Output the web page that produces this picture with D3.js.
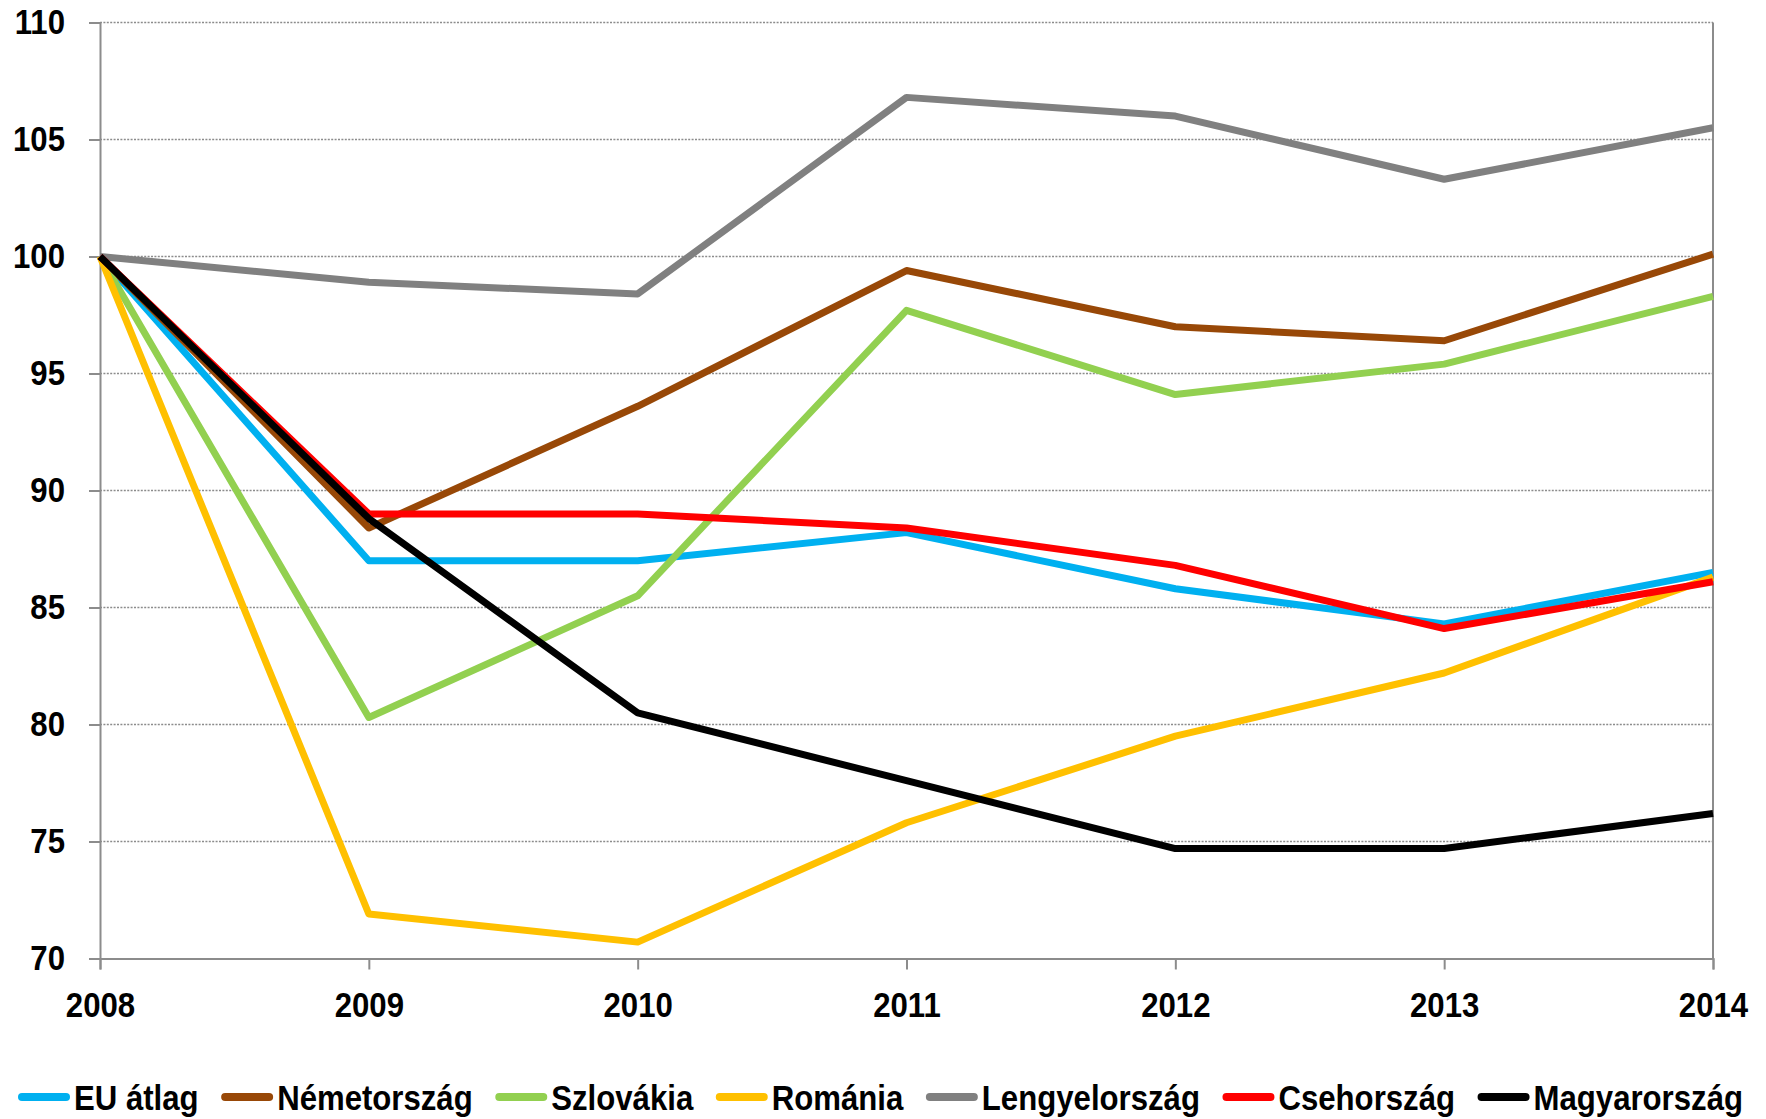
<!DOCTYPE html>
<html>
<head>
<meta charset="utf-8">
<script src="https://cdn.jsdelivr.net/npm/d3@7"></script>
<style>
  body { margin: 0; background: #fff; }
  text { font-family: "Liberation Sans", Arial, sans-serif; font-weight: bold; fill: #000; }
</style>
</head>
<body>
<script>
// ---------------- data ----------------
var years = [2008, 2009, 2010, 2011, 2012, 2013, 2014];
var yTicks = [70, 75, 80, 85, 90, 95, 100, 105, 110];

var euAtlag      = [100, 87.0, 87.0, 88.2, 85.8, 84.3, 86.5];
var nemetorszag  = [100, 88.4, 93.6, 99.4, 97.0, 96.4, 100.1];
var szlovakia    = [100, 80.3, 85.5, 97.7, 94.1, 95.4, 98.3];
var romania      = [100, 71.9, 70.7, 75.8, 79.5, 82.2, 86.3];
var lengyel      = [100, 98.9, 98.4, 106.8, 106.0, 103.3, 105.5];
var cseh         = [100, 89.0, 89.0, 88.4, 86.8, 84.1, 86.1];
var magyar       = [100, 88.8, 80.5, 77.6, 74.7, 74.7, 76.2];

var seriesNames  = ["EU átlag", "Németország", "Szlovákia", "Románia", "Lengyelország", "Csehország", "Magyarország"];
var seriesValues = [euAtlag, nemetorszag, szlovakia, romania, lengyel, cseh, magyar];
var seriesColors = ["#00b0f0", "#984807", "#92d050", "#ffc000", "#808080", "#ff0000", "#000000"];

// ---------------- setup ----------------
var W = 1766, H = 1119;
var mLeft = 100, mRight = 1713, mTop = 22.5, mBottom = 958.5;
var narrow = 0.89;   // squeeze text a bit, reference uses a narrow font

var svg = d3.select("body")
     .append("svg")
     .attr("width", W)
     .attr("height", H);

var x = d3.scalePoint().domain(years).range([mLeft, mRight]);
var y = d3.scaleLinear().domain([70, 110]).range([mBottom, mTop]);

// gridlines (dotted)
svg.append("g")
     .selectAll("line")
     .data(yTicks.filter(function (d) { return d > 70; }))
     .enter()
     .append("line")
     .attr("x1", mLeft)
     .attr("x2", mRight)
     .attr("y1", function (d) { return y(d); })
     .attr("y2", function (d) { return y(d); })
     .attr("stroke", "#8c8c8c")
     .attr("stroke-width", 1.5)
     .attr("stroke-dasharray", "2,1.4");

// right border
svg.append("line")
     .attr("x1", mRight).attr("x2", mRight)
     .attr("y1", mTop).attr("y2", mBottom)
     .attr("stroke", "#8c8c8c")
     .attr("stroke-width", 2);

// y axis
var yAxis = svg.append("g")
     .attr("transform", "translate(" + mLeft + ",0)")
     .call(d3.axisLeft(y).tickValues(yTicks).tickSize(11).tickPadding(24).tickFormat(d3.format("d")));

// x axis
var xAxis = svg.append("g")
     .attr("transform", "translate(0," + mBottom + ")")
     .call(d3.axisBottom(x).tickSize(11).tickPadding(23).tickFormat(d3.format("d")));

[yAxis, xAxis].forEach(function (g) {
     g.select(".domain").attr("stroke", "#8c8c8c").attr("stroke-width", 2);
     g.selectAll(".tick line").attr("stroke", "#8c8c8c").attr("stroke-width", 2);
     g.selectAll(".tick text")
          .style("font-family", "'Liberation Sans', Arial, sans-serif")
          .style("font-weight", "bold")
          .style("font-size", "35px")
          .attr("fill", "#000")
          .attr("x", function () { return (+d3.select(this).attr("x") || 0) / narrow; })
          .attr("transform", "scale(" + narrow + ",1)");
});
xAxis.selectAll(".tick text").attr("dy", "0.71em");

// ---------------- lines ----------------
var line = d3.line()
     .x(function (d, i) { return x(years[i]); })
     .y(function (d) { return y(d); });

svg.append("g")
     .selectAll("path")
     .data(seriesValues)
     .enter()
     .append("path")
     .attr("d", line)
     .attr("fill", "none")
     .attr("stroke", function (d, i) { return seriesColors[i]; })
     .attr("stroke-width", 7)
     .attr("stroke-linejoin", "round")
     .attr("stroke-linecap", "butt");

// ---------------- legend ----------------
var legY = 1097, legStart = 18, legEnd = 1743;
var leg = svg.append("g");
var items = leg.selectAll("g")
     .data(seriesNames)
     .enter()
     .append("g");

items.append("line")
     .attr("x1", 4).attr("x2", 48)
     .attr("y1", legY).attr("y2", legY)
     .attr("stroke", function (d, i) { return seriesColors[i]; })
     .attr("stroke-width", 8)
     .attr("stroke-linecap", "round");

items.append("text")
     .text(function (d) { return d; })
     .attr("x", 56 / narrow)
     .attr("y", legY)
     .attr("dy", "0.36em")
     .attr("transform", "scale(" + narrow + ",1)")
     .style("font-size", "35px");

var widths = [];
items.each(function () {
     widths.push(56 + narrow * d3.select(this).select("text").node().getComputedTextLength());
});
var gap = (legEnd - legStart - d3.sum(widths)) / (widths.length - 1);
var pos = legStart;
items.each(function (d, i) {
     d3.select(this).attr("transform", "translate(" + pos + ",0)");
     pos += widths[i] + gap;
});
</script>
</body>
</html>
